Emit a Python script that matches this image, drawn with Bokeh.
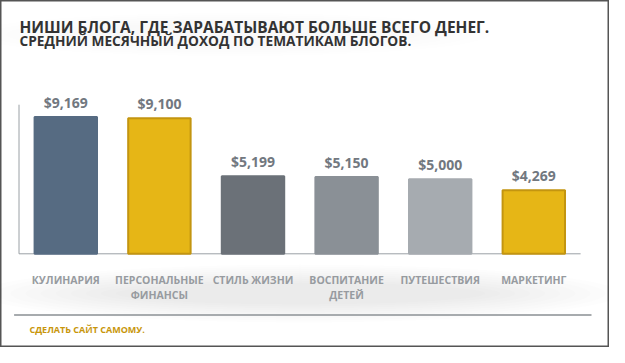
from bokeh.plotting import figure
from bokeh.models import Range1d, ColumnDataSource
from bokeh.core.properties import value
from bokeh.embed import file_html
from bokeh.resources import INLINE

# ---- data ----
categories = ["КУЛИНАРИЯ", "ПЕРСОНАЛЬНЫЕ\nФИНАНСЫ", "СТИЛЬ ЖИЗНИ",
              "ВОСПИТАНИЕ\nДЕТЕЙ", "ПУТЕШЕСТВИЯ", "МАРКЕТИНГ"]
incomes = [9169, 9100, 5199, 5150, 5000, 4269]
value_labels = ["$9,169", "$9,100", "$5,199", "$5,150", "$5,000", "$4,269"]
bar_colors = ["#566b82", "#e6b616", "#6b7178", "#8a9096", "#a6abb0", "#e6b616"]
bar_edges = ["#566b82", "#c39510", "#6b7178", "#8a9096", "#a6abb0", "#c39510"]
axis_max = 10000

title1 = "НИШИ БЛОГА, ГДЕ ЗАРАБАТЫВАЮТ БОЛЬШЕ ВСЕГО ДЕНЕГ."
title2 = "СРЕДНИЙ МЕСЯЧНЫЙ ДОХОД ПО ТЕМАТИКАМ БЛОГОВ."
footer = "СДЕЛАТЬ САЙТ САМОМУ."

W, H = 609, 347
step = 93.6
x_start = -18.5 / step
x_end = x_start + W / step
ppu = 136.7 / 9169.0
base_px = 253.3
y_end = base_px / ppu
y_start = -(H - base_px) / ppu

p = figure(width=W, height=H, output_backend="svg", toolbar_location=None,
           x_range=Range1d(x_start, x_end), y_range=Range1d(y_start, y_end),
           min_border=0, min_border_left=0, min_border_right=0,
           min_border_top=0, min_border_bottom=0)
p.extra_x_ranges = {"px": Range1d(0, W)}
p.extra_y_ranges = {"px": Range1d(H, 0)}
p.axis.visible = False
p.grid.visible = False
p.outline_line_color = "#555555"
p.outline_line_width = 2
p.background_fill_color = "white"
p.border_fill_color = "white"

# soft gray glow behind category labels (stacked ellipses)
for k in range(10):
    p.ellipse(x=300, y=293, width=640 - k * 30, height=58 - k * 4,
              fill_color="black", fill_alpha=0.007, line_color=None,
              x_range_name="px", y_range_name="px")
# faint glow behind title
for k in range(6):
    p.ellipse(x=230, y=34, width=520 - k * 35, height=44 - k * 4,
              fill_color="black", fill_alpha=0.004, line_color=None,
              x_range_name="px", y_range_name="px")

src = ColumnDataSource(dict(
    x=[i + 0.5 for i in range(len(categories))],
    top=incomes, lab=value_labels, cat=categories,
    color=bar_colors, edge=bar_edges,
))

# axis lines
p.segment(x0=[0], y0=[0], x1=[0], y1=[axis_max], line_color="#9aa0a5", line_width=1)
p.segment(x0=[0], y0=[0], x1=[len(categories)], y1=[0], line_color="#9aa0a5", line_width=1)

p.vbar(x="x", top="top", bottom=0, width=0.667, source=src,
       fill_color="color", line_color="edge", line_width=2)

p.text(x="x", y="top", text="lab", source=src, text_align="center",
       text_baseline="bottom", y_offset=-5, text_font=value("Open Sans"),
       text_font_style="bold", text_font_size="14px", text_color="#72787f")

p.text(x="x", y=0, text="cat", source=src, text_align="center",
       text_baseline="top", y_offset=19, text_font=value("Open Sans"),
       text_font_style="bold", text_font_size="10.5px", text_color="#979ba0",
       text_line_height=1.1)

# titles
p.text(x=[19], y=[26], text=[title1], x_range_name="px", y_range_name="px",
       text_baseline="middle", text_font=value("Open Sans"), text_font_style="bold",
       text_font_size="15.5px", text_color="#333333")
p.text(x=[19], y=[40], text=[title2], x_range_name="px", y_range_name="px",
       text_baseline="middle", text_font=value("Open Sans"), text_font_style="bold",
       text_font_size="13.7px", text_color="#333333")

# bottom rule and footer
p.segment(x0=[13.6], y0=[314.5], x1=[591], y1=[314.5], x_range_name="px",
          y_range_name="px", line_color="#a7abae", line_width=2)
p.text(x=[29], y=[329], text=[footer], x_range_name="px", y_range_name="px",
       text_baseline="middle", text_font=value("Open Sans"), text_font_style="bold",
       text_font_size="9px", text_color="#c8960c")

open("out.html", "w").write(file_html(p, INLINE))
